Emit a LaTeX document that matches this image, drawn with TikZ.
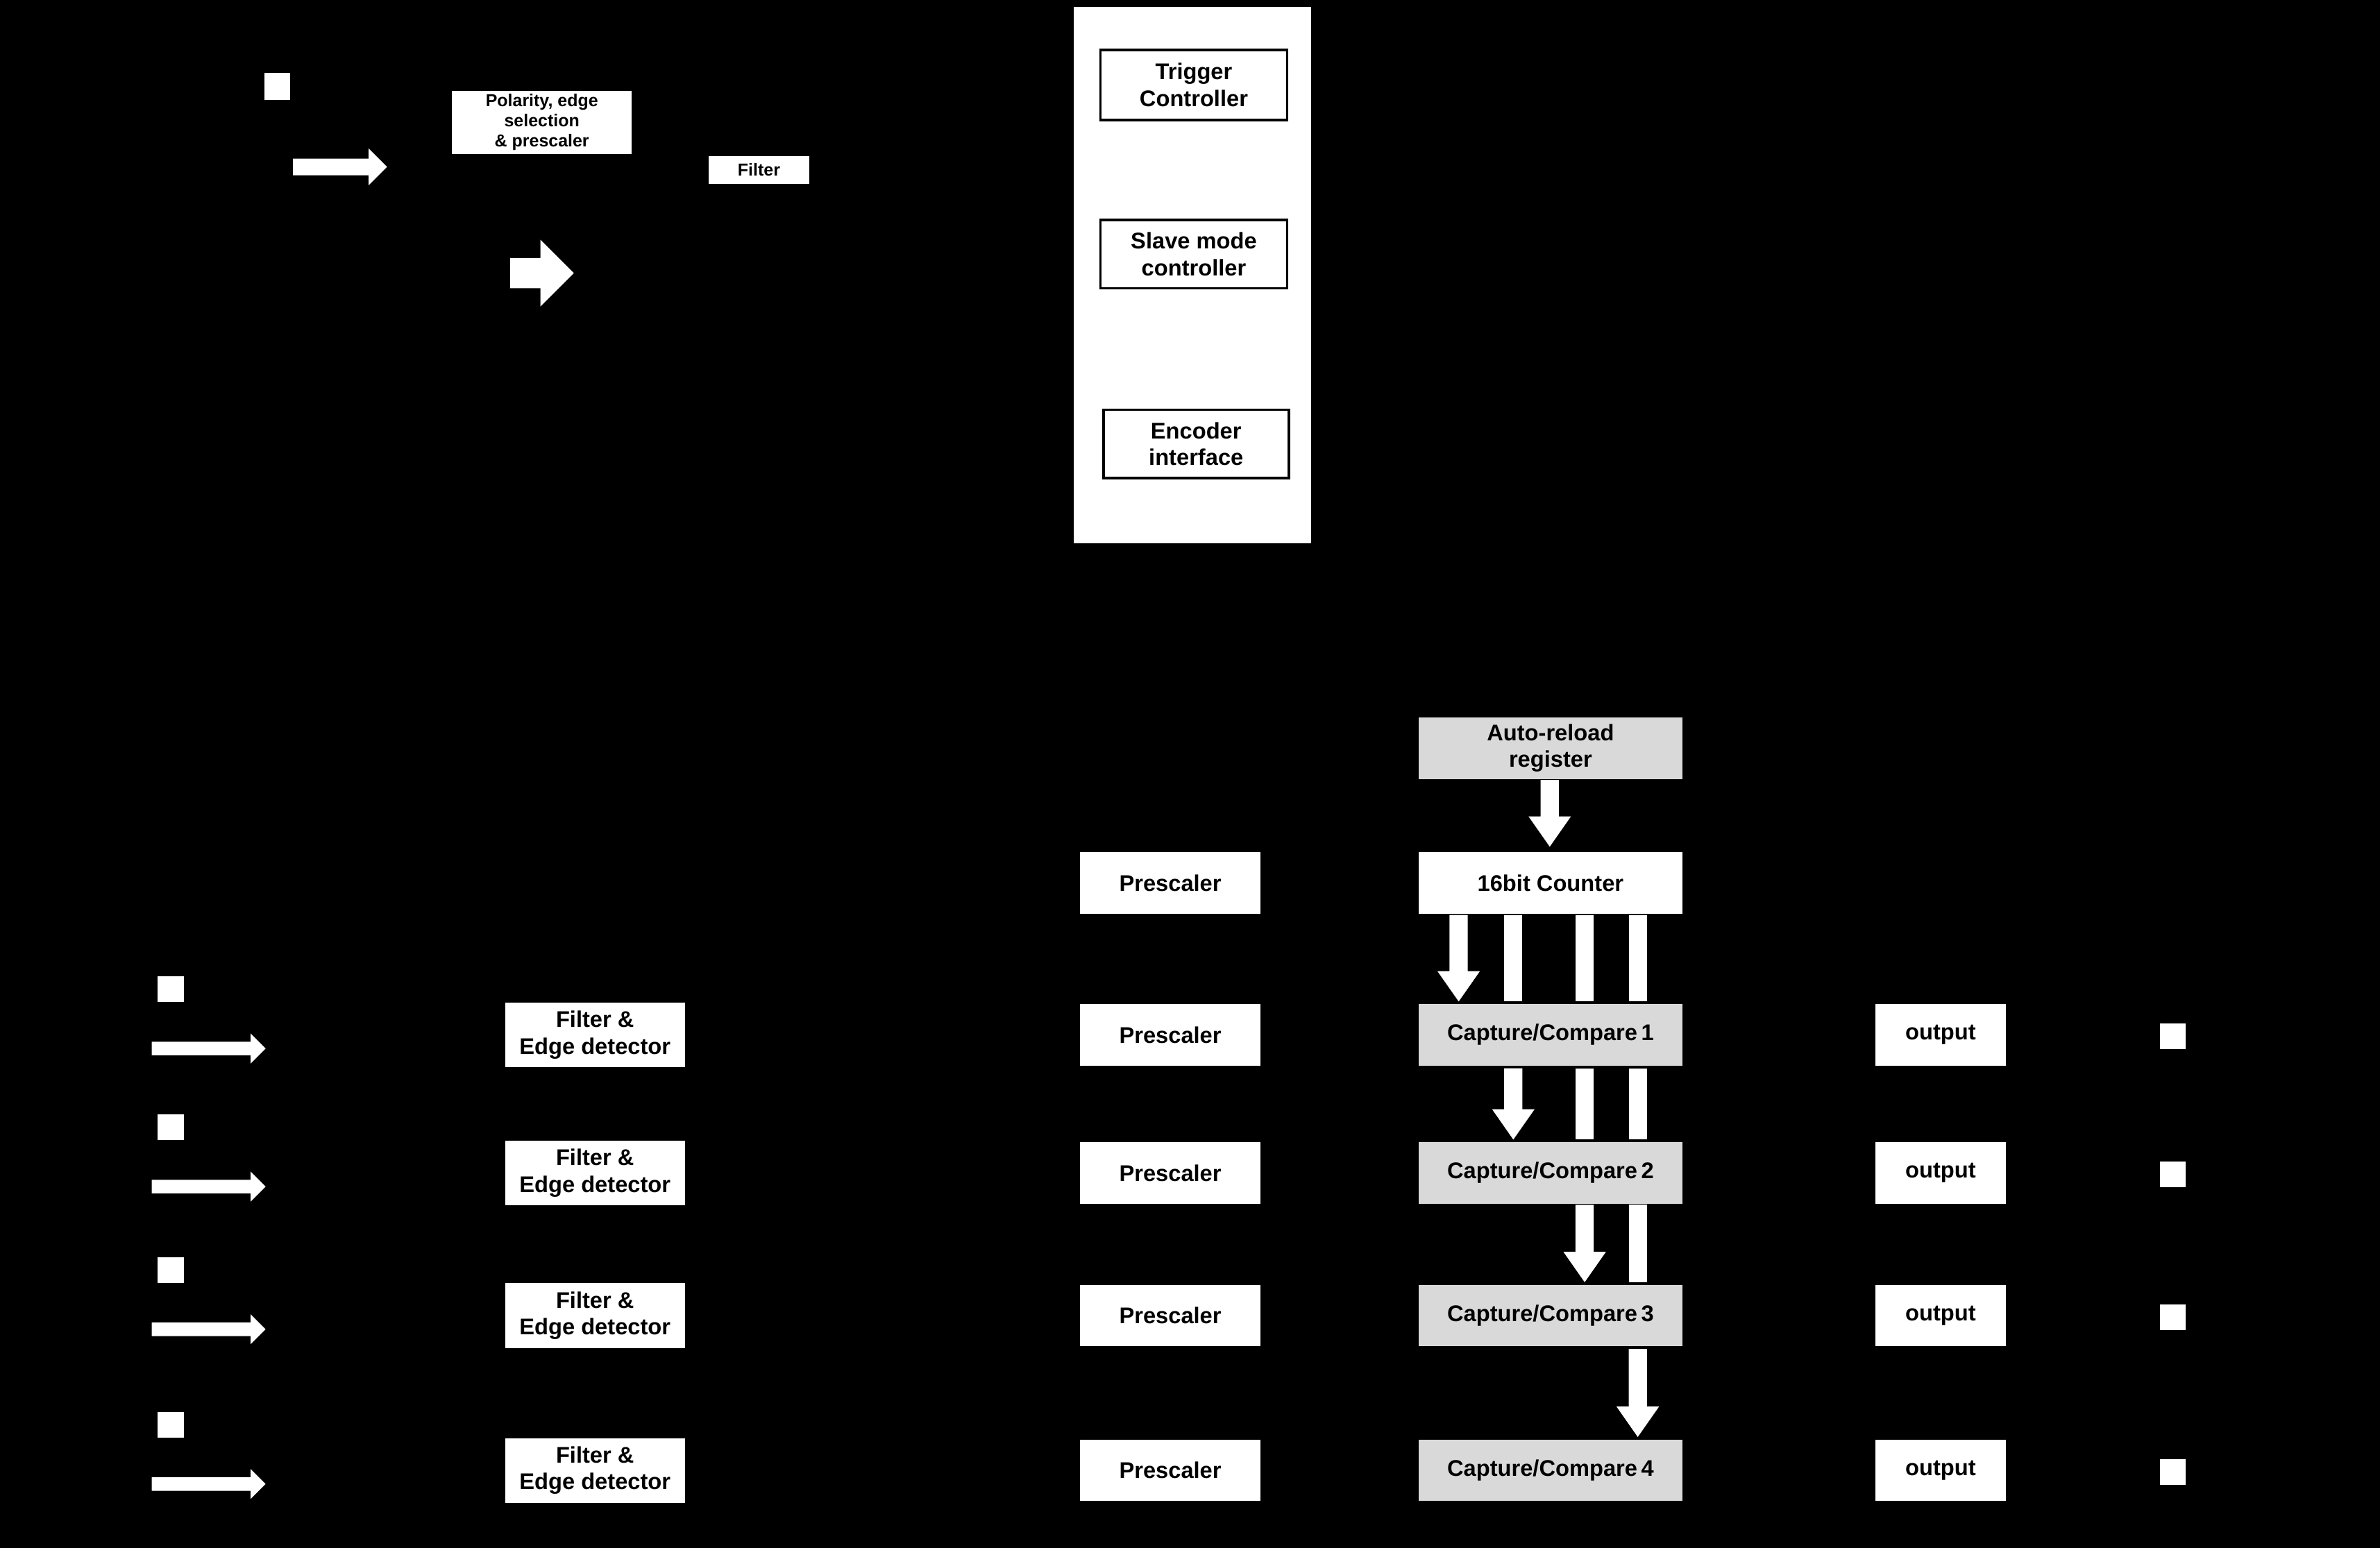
\documentclass[tikz,border=0pt]{standalone}
\usepackage{fontspec}
\setmainfont{Liberation Sans}
\usetikzlibrary{arrows.meta}
\newlength\U \setlength\U{0.02cm}
\begin{document}
\begin{tikzpicture}[x=0.02cm,y=-0.02cm,
  wb/.style={draw=black,fill=white,line width=0.8pt,font=\bfseries\fontsize{8.5}{10}\selectfont,align=center,inner sep=0pt},
  gb/.style={wb,fill=gray!30},
  ib/.style={draw=black,line width=1pt,fill=white,font=\bfseries\fontsize{8.5}{10}\selectfont,align=center,inner sep=0pt},
  lab/.style={font=\bfseries\fontsize{8}{9}\selectfont,text=black},
  ln/.style={draw=black,line width=0.6pt},
  ar/.style={ln,-{Latex[length=5pt]}}]
\fill[black] (0,0) rectangle (1568,1020);
\useasboundingbox (0,0) rectangle (1568,1020);
\newcommand{\wdown}[3]{\fill[white] (#1-6,#2) -- (#1+6,#2) -- (#1+6,#3-20) -- (#1+14,#3-20) -- (#1,#3) -- (#1-14,#3-20) -- (#1-6,#3-20) -- cycle;}
\newcommand{\wbar}[3]{\fill[white] (#1-6,#2) rectangle (#1+6,#3);}
\newcommand{\wright}[4]{\fill[white] (#1,#3-#4) -- (#2-#4*2.2,#3-#4) -- (#2-#4*2.2,#3-#4*2.2) -- (#2,#3) -- (#2-#4*2.2,#3+#4*2.2) -- (#2-#4*2.2,#3+#4) -- (#1,#3+#4) -- cycle;}
% top big box
\node[wb,minimum width=158\U,minimum height=355\U,anchor=north west] (big) at (706,3) {};
\node[ib,minimum width=123\U,minimum height=46\U] (trig) at (786.5,56) {Trigger\\Controller};
\node[ib,minimum width=123\U,minimum height=45\U] (slave) at (786.5,167.5) {Slave mode\\controller};
\node[ib,minimum width=122\U,minimum height=45\U] (enc) at (788,292.5) {Encoder\\interface};
\node[wb,minimum width=120\U,minimum height=43\U,font=\bfseries\fontsize{6.5}{7.5}\selectfont] (pol) at (357,80.5) {Polarity, edge\\selection\\\& prescaler};
\node[wb,minimum width=68\U,minimum height=20\U,font=\bfseries\fontsize{6.5}{7.5}\selectfont] (filt) at (500,112) {Filter};
\node[fill=white,minimum width=17\U,minimum height=18\U,inner sep=0pt] (etr) at (182.5,57) {};
\node[lab,anchor=east] at (172,57) {GTIMx\_ETR};
\wright{193}{255}{110}{5.5}
\node[lab,anchor=east] at (172,110) {Int\_etr[15:1]};
\wright{336}{378}{180}{10}
\node[lab,anchor=east] at (318,180) {ITR[15:0]};
\coordinate (trgo) at (1130,100);
\draw[ar] (big.east|-trgo) -- (trgo) node[lab,pos=0.6,above]{TRGO};
\draw[ar] (435,23) -- (706,23) node[lab,midway,above]{CK\_GTIMx};
\draw[ln] (etr) -- (255,57); \draw[ln] (280,80) -- (pol);
\draw[ar] (pol.east) -- (490,80) -- (filt.north-|490,0);
\node[lab] at (620,46) {ETRF}; \node[lab] at (665,163) {TRGI};
\node[lab] at (430,171) {ITR}; \node[lab] at (497,185) {TRC};
\node[lab] at (484,316) {TI1FP1}; \node[lab] at (484,342) {TI2FP2};
\node[lab,rotate=90] at (412,290) {TI1F\_ED};
\draw[ln] (865,225) -- (942,225) -- (942,432) -- (558,432) -- (558,582) -- (711,582);
% counter area
\node[gb,minimum width=175\U,minimum height=42\U] (arr) at (1021.5,493) {Auto-reload\\register};
\node[wb,minimum width=175\U,minimum height=42\U] (cnt) at (1021.5,582) {16bit Counter};
\wdown{1021}{514}{558}
\node[wb,minimum width=120\U,minimum height=42\U] (psc) at (771,582) {Prescaler};
\node[lab] at (665,570) {CK\_PSC}; \node[lab] at (877,570) {CK\_CNT};
\draw[ar] (psc) -- (cnt);
\draw[ln] (428,660) -- (428,190);
\foreach \i/\y in {1/682,2/773,3/867,4/969}{
  \node[wb,minimum width=120\U,minimum height=44\U] (fe\i) at (392,\y) {Filter \&\\Edge detector};
  \node[wb,minimum width=120\U,minimum height=42\U] (ps\i) at (771,\y) {Prescaler};
  \node[gb,minimum width=175\U,minimum height=42\U] (cc\i) at (1021.5,\y) {Capture/Compare\,\i};
  \node[wb,minimum width=87\U,minimum height=42\U] (out\i) at (1278.5,\y) {output};
  \node[fill=white,minimum width=17\U,minimum height=17\U,inner sep=0pt] (op\i) at (1431.5,\y+1) {};
  \node[lab,anchor=west] at (1444,\y) {GTIMx\_CH\i};
  \node[fill=white,minimum width=17\U,minimum height=17\U,inner sep=0pt] (ip\i) at (112.5,\y-30) {};
  \node[lab,anchor=east] at (102,\y-30) {GTIMx\_CH\i};
  \wright{100}{175}{\y+9}{4.5}
  \node[lab,anchor=east,font=\bfseries\fontsize{6}{7}\selectfont] at (88,\y+9) {tim\_ti\i\_in[15:1]};
  \draw[ar] (ps\i) -- (cc\i) node[lab,midway,above]{IC\i PS};
  \draw[ar] (cc\i) -- (out\i) node[lab,midway,above]{OC\i REF};
  \draw[ln] (out\i) -- (op\i);
  \draw[ar] (648,\y) -- (ps\i) node[lab,midway,above]{IC\i};
  \draw[ar] (200,\y) -- (fe\i) node[lab,pos=0.5,above]{IT\i};
}
\wdown{961}{603}{660}
\wbar{997}{603}{660}\wbar{1044}{603}{660}\wbar{1079}{603}{660}
\wdown{997}{704}{751}
\wbar{1044}{704}{751}\wbar{1079}{704}{751}
\wdown{1044}{794}{845}
\wbar{1079}{794}{845}
\wdown{1079}{889}{947}
\end{tikzpicture}
\end{document}
